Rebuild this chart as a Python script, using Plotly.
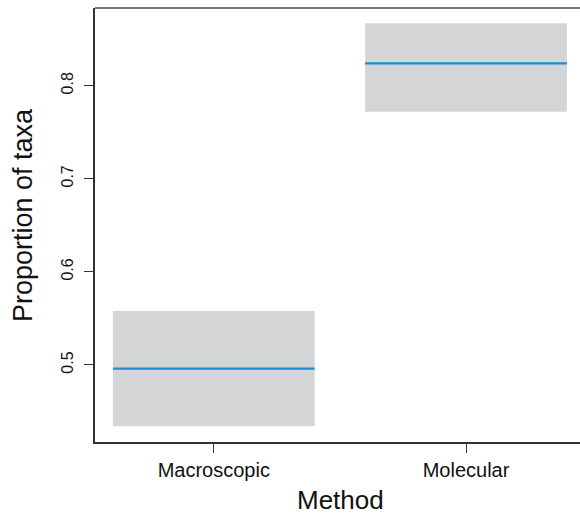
import plotly.graph_objects as go

methods = ["Macroscopic", "Molecular"]
x_pos = [1, 2]
mean_vals = [0.496, 0.824]
lower_vals = [0.434, 0.772]
upper_vals = [0.558, 0.867]
y_ticks = [0.5, 0.6, 0.7, 0.8]

box_w = 0.8
FONT = "Liberation Sans, Arial, Helvetica, sans-serif"

fig = go.Figure()
fig.add_trace(go.Bar(
    x=x_pos, y=[u - l for u, l in zip(upper_vals, lower_vals)], base=lower_vals,
    width=box_w, marker=dict(color="#d4d5d7", line=dict(width=0)),
    hoverinfo="skip", showlegend=False))
for xp, m in zip(x_pos, mean_vals):
    fig.add_trace(go.Scatter(
        x=[xp - box_w / 2, xp + box_w / 2], y=[m, m], mode="lines",
        line=dict(color="#1a8dd2", width=2.2), showlegend=False, hoverinfo="skip"))

fig.update_layout(
    width=580, height=516,
    margin=dict(l=95, r=0, t=8, b=74),
    plot_bgcolor="white", paper_bgcolor="white",
    font=dict(family=FONT, color="#111"),
    xaxis=dict(range=[0.529, 2.452], tickvals=x_pos, ticktext=methods,
               ticks="outside", ticklen=9, tickcolor="#333", tickwidth=1,
               showline=True, linecolor="#333", linewidth=1.5, showgrid=False,
               zeroline=False, tickfont=dict(size=20, color="#111"),
               ticklabelstandoff=0),
    yaxis=dict(range=[0.4172, 0.8835], tickvals=y_ticks,
               ticktext=[f"{v:.1f}" for v in y_ticks],
               ticks="outside", ticklen=9, tickcolor="#333", tickwidth=1,
               showline=True, linecolor="#333", linewidth=1.5, showgrid=False,
               zeroline=False, tickangle=-90, tickfont=dict(size=16, color="#111"),
               ticklabelstandoff=5),
    shapes=[dict(type="line", xref="paper", yref="paper", x0=0, x1=1, y0=1, y1=1,
                 line=dict(color="#777", width=2))],
    annotations=[
        dict(text="Method", xref="paper", yref="paper", x=(340 - 95) / 485,
             y=0, yshift=-(500 - 442), showarrow=False,
             font=dict(size=26, color="#111"), xanchor="center", yanchor="middle"),
        dict(text="Proportion of taxa", xref="paper", yref="paper", x=0,
             xshift=-(95 - 23), y=0.5, yshift=10, showarrow=False, textangle=-90,
             font=dict(size=27, color="#111"), xanchor="center", yanchor="middle"),
    ],
)

fig.write_html("out.html")
